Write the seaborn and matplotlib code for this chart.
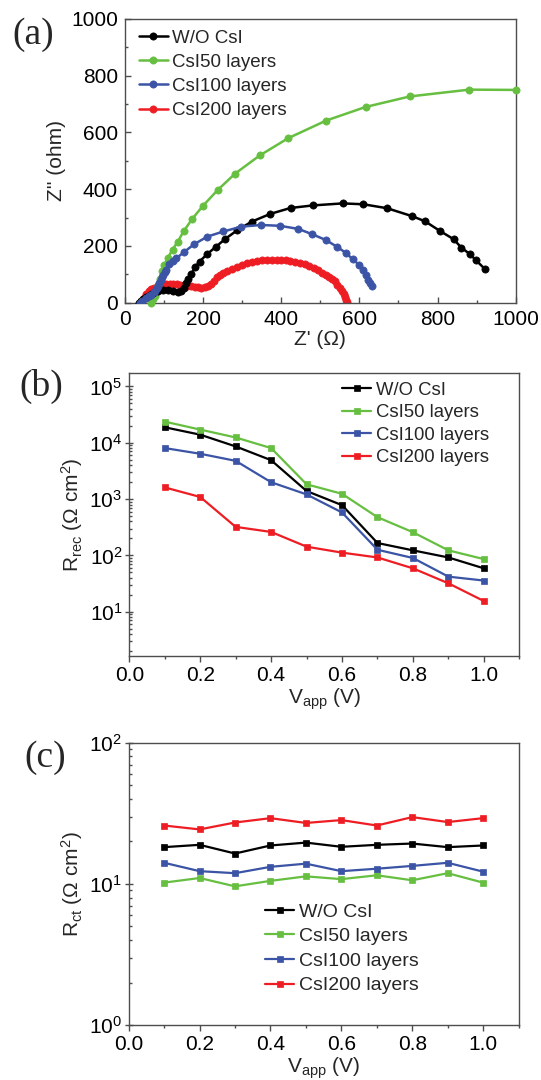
import numpy as np
import pandas as pd
import matplotlib
matplotlib.use("Agg")
import matplotlib.pyplot as plt
import seaborn as sns
from matplotlib.ticker import MultipleLocator, LogLocator, NullFormatter

sns.set_theme(style="white")
plt.rcParams["font.family"] = ["Liberation Sans", "DejaVu Sans"]
plt.rcParams["mathtext.fontset"] = "custom"
plt.rcParams["mathtext.rm"] = "Liberation Sans"
plt.rcParams["mathtext.it"] = "Liberation Sans:italic"
plt.rcParams["mathtext.bf"] = "Liberation Sans:bold"

# ---------------- data ----------------
series_names = ["W/O CsI", "CsI50 layers", "CsI100 layers", "CsI200 layers"]
colors = ["#000000", "#66BF40", "#3B54A5", "#EE1D24"]

# (a) Nyquist plots: Z' (ohm), Z'' (ohm)
wo_zre = [35, 40, 47, 55, 63, 72, 84, 97, 110, 123, 136, 144, 151, 157, 162, 170, 180, 191, 211, 232,
          256, 288, 325, 372, 424, 482, 557, 610, 671, 735, 768, 806, 841, 861, 883, 898, 921]
wo_zim = [0, 6, 13, 20, 28, 35, 42, 45, 45, 42, 36, 40, 53, 68, 82, 101, 125, 145, 172, 196,
          224, 256, 286, 313, 334, 343, 350, 347, 333, 305, 287, 253, 224, 194, 171, 150, 119]
c50_zre = [68, 72, 76, 80, 84, 89, 95, 101, 110, 122, 135, 151, 172, 200, 238, 282, 345, 418, 515, 616,
           729, 881, 1000]
c50_zim = [0, 12, 25, 42, 62, 85, 110, 133, 159, 187, 215, 253, 295, 342, 398, 455, 519, 580, 642, 690,
           727, 751, 750]
c100_zre = [38, 45, 55, 62, 68, 74, 78, 82, 85, 88, 92, 95, 98, 102, 106, 113, 122, 132, 150, 177,
            211, 252, 298, 348, 397, 444, 480, 514, 543, 566, 583, 599, 609, 617, 623, 628, 632]
c100_zim = [0, 6, 15, 22, 28, 36, 43, 52, 60, 70, 80, 90, 98, 107, 116, 135, 147, 157, 177, 206,
            233, 251, 268, 274, 271, 260, 241, 221, 197, 175, 153, 134, 115, 98, 80, 68, 58]
c200_zre = [42, 48, 55, 62, 68, 75, 82, 90, 98, 106, 115, 124, 133, 142, 150, 160, 170, 180, 188, 196,
            204, 212, 220, 228, 236, 244, 252, 262, 273, 286, 299, 312, 324, 337, 350, 363, 376, 388, 400, 412,
            423, 435, 448, 460, 472, 484, 495, 505, 514, 522, 530, 537, 544, 550, 555, 560, 564, 567, 569]
c200_zim = [5, 18, 30, 40, 47, 52, 57, 61, 63, 65, 66, 66, 65, 63, 62, 60, 58, 56, 54, 52,
            54, 60, 66, 78, 89, 97, 104, 111, 118, 126, 133, 139, 144, 147, 149, 150, 151, 151, 150, 149,
            147, 144, 141, 136, 130, 123, 115, 106, 98, 92, 84, 75, 64, 52, 41, 30, 20, 10, 2]

# (b), (c) vs applied voltage
v_app = [0.1, 0.2, 0.3, 0.4, 0.5, 0.6, 0.7, 0.8, 0.9, 1.0]
rrec_wo = [18800, 13900, 8600, 4900, 1390, 780, 166, 123, 92, 59]
rrec_50 = [23700, 17100, 12400, 8040, 1830, 1240, 477, 258, 123, 86]
rrec_100 = [8040, 6370, 4770, 1990, 1210, 578, 126, 90, 42, 35.8]
rrec_200 = [1610, 1090, 321, 261, 143, 112, 92, 59, 32, 15.5]

rct_wo = [18.2, 18.9, 16.4, 18.7, 19.6, 18.3, 18.9, 19.3, 18.2, 18.7]
rct_50 = [10.2, 11.0, 9.6, 10.5, 11.3, 10.8, 11.5, 10.6, 11.9, 10.2]
rct_100 = [14.1, 12.3, 11.9, 13.2, 13.9, 12.3, 12.8, 13.4, 14.1, 12.2]
rct_200 = [25.9, 24.3, 27.2, 29.2, 27.0, 28.3, 25.9, 29.7, 27.4, 29.2]

nyq = [(wo_zre, wo_zim), (c50_zre, c50_zim), (c100_zre, c100_zim), (c200_zre, c200_zim)]
rrec = [rrec_wo, rrec_50, rrec_100, rrec_200]
rct = [rct_wo, rct_50, rct_100, rct_200]

# ---------------- figure ----------------
W, H = 541, 1080
fig = plt.figure(figsize=(W / 100, H / 100), dpi=100)


def rect(l, r, t, b):
    return [l / W, 1 - b / H, (r - l) / W, (b - t) / H]


ax_a = fig.add_axes(rect(124.9, 515.7, 19, 302.7))
ax_b = fig.add_axes(rect(129.3, 519.3, 372.7, 656))
ax_c = fig.add_axes(rect(128.7, 518.6, 742.7, 1025))

spine_col = "#4d4d4d"
for ax in (ax_a, ax_b, ax_c):
    ax.set_facecolor("white")
    for s in ax.spines.values():
        s.set_color(spine_col)
        s.set_linewidth(1.0)
        s.set_visible(True)

TICK_FS = 15
LAB_FS = 15

# ---- (a)
zorders = [4, 3, 5, 2]
for (zr, zi), name, c, zo in zip(nyq, series_names, colors, zorders):
    df = pd.DataFrame({"zre": zr, "zim": zi})
    sns.lineplot(data=df, x="zre", y="zim", ax=ax_a, color=c, marker="o", markersize=5.2,
                 markeredgecolor=c, markeredgewidth=0.5, linewidth=1.8, label=name,
                 sort=False, estimator=None, zorder=zo, clip_on=False if name == "CsI50 layers" else True)
ax_a.set_xlim(0, 1000)
ax_a.set_ylim(0, 1000)
ax_a.xaxis.set_major_locator(MultipleLocator(200))
ax_a.xaxis.set_minor_locator(MultipleLocator(100))
ax_a.yaxis.set_major_locator(MultipleLocator(200))
ax_a.yaxis.set_minor_locator(MultipleLocator(100))
ax_a.tick_params(which="both", direction="in", colors=spine_col, labelcolor="black",
                 labelsize=TICK_FS, bottom=True, left=True, top=False, right=False)
ax_a.tick_params(which="major", length=4, width=1, pad=5)
ax_a.tick_params(which="minor", length=2.5, width=1)
ax_a.set_xlabel("Z' (Ω)", fontsize=LAB_FS, labelpad=1)
ax_a.set_ylabel("Z'' (ohm)", fontsize=LAB_FS, labelpad=4)
ax_a.legend(loc="upper left", bbox_to_anchor=(0.035, 0.962), frameon=False, fontsize=13.5,
            handlelength=1.55, handletextpad=0.25, labelspacing=0.37, borderpad=0, borderaxespad=0)

# ---- (b)
for vals, name, c in zip(rrec, series_names, colors):
    df = pd.DataFrame({"v": v_app, "r": vals})
    sns.lineplot(data=df, x="v", y="r", ax=ax_b, color=c, marker="s", markersize=5,
                 markeredgecolor=c, markeredgewidth=0.5, linewidth=1.6, label=name,
                 sort=False, estimator=None)
ax_b.set_yscale("log")
ax_b.set_xlim(0, 1.1)
ax_b.set_ylim(1.64, 1.75e5)

# ---- (c)
for vals, name, c in zip(rct, series_names, colors):
    df = pd.DataFrame({"v": v_app, "r": vals})
    sns.lineplot(data=df, x="v", y="r", ax=ax_c, color=c, marker="s", markersize=5,
                 markeredgecolor=c, markeredgewidth=0.5, linewidth=1.6, label=name,
                 sort=False, estimator=None)
ax_c.set_yscale("log")
ax_c.set_xlim(0, 1.1)
ax_c.set_ylim(1, 100)

for ax in (ax_b, ax_c):
    ax.xaxis.set_major_locator(MultipleLocator(0.2))
    ax.xaxis.set_minor_locator(MultipleLocator(0.1))
    ax.xaxis.set_major_formatter(matplotlib.ticker.FormatStrFormatter("%.1f"))
    ax.yaxis.set_major_locator(LogLocator(base=10, numticks=10))
    ax.yaxis.set_minor_locator(LogLocator(base=10, subs=np.arange(2, 10), numticks=20))
    ax.yaxis.set_minor_formatter(NullFormatter())
    ax.tick_params(which="both", colors=spine_col, labelcolor="black", labelsize=TICK_FS,
                   bottom=True, left=True, top=False, right=False)
    ax.tick_params(axis="x", which="both", direction="out")
    ax.tick_params(axis="x", which="major", length=4, width=1, pad=3)
    ax.tick_params(axis="x", which="minor", length=2.5, width=1)
    ax.tick_params(axis="y", which="major", direction="inout", length=6, width=1, pad=2)
    ax.tick_params(axis="y", which="minor", direction="in", length=2.5, width=1)
    ax.set_xlabel(r"V$_{\mathrm{app}}$ (V)", fontsize=LAB_FS, labelpad=1)

ax_b.set_ylabel(r"R$_{\mathrm{rec}}$ (Ω cm$^{2}$)", fontsize=LAB_FS, labelpad=3)
ax_c.set_ylabel(r"R$_{\mathrm{ct}}$ (Ω cm$^{2}$)", fontsize=LAB_FS, labelpad=3)

ax_b.legend(loc="upper left", bbox_to_anchor=(0.545, 0.968), frameon=False, fontsize=13.3,
            handlelength=1.6, handletextpad=0.25, labelspacing=0.3, borderpad=0, borderaxespad=0)
ax_c.legend(loc="upper left", bbox_to_anchor=(0.35, 0.432), frameon=False, fontsize=14,
            handlelength=1.5, handletextpad=0.25, labelspacing=0.36, borderpad=0, borderaxespad=0)

# panel letters
letter_kw = dict(fontsize=27, family=["Liberation Serif", "DejaVu Serif"], ha="center", va="center")
fig.text(32.8 / W, 1 - 35 / H, "(a)", **letter_kw)
fig.text(41.4 / W, 1 - 386.7 / H, "(b)", **letter_kw)
fig.text(44.9 / W, 1 - 758 / H, "(c)", **letter_kw)

fig.savefig("out.png", dpi=100, facecolor="white")
